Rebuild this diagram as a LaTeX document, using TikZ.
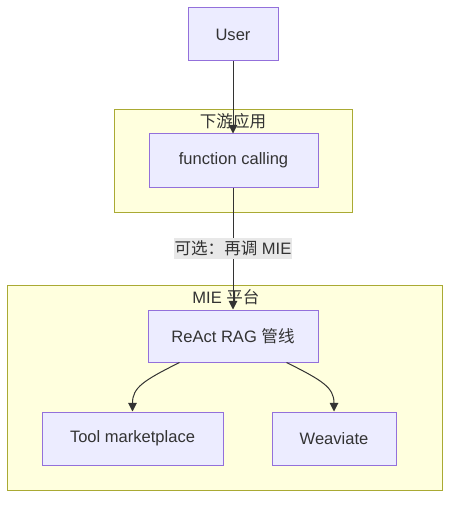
\documentclass[tikz,border=0pt]{standalone}
\usepackage{fontspec}
\setmainfont{Liberation Sans}
\newfontfamily\cjk{Noto Sans CJK SC}
\usetikzlibrary{arrows.meta,calc}
\definecolor{nodefill}{HTML}{ECECFF}
\definecolor{nodeline}{HTML}{9370DB}
\definecolor{clusterfill}{HTML}{FFFFDE}
\definecolor{clusterline}{HTML}{AAAA33}
\definecolor{txt}{HTML}{333333}
\definecolor{lblbg}{HTML}{E8E8E8}
\begin{document}
\begin{tikzpicture}[x=0.75pt,y=-0.75pt,
  font=\fontsize{12.4pt}{14pt}\selectfont,
  box/.style={draw=nodeline,fill=nodefill,line width=0.75pt,text=txt,minimum height=39.75pt,inner sep=0pt},
  cluster/.style={draw=clusterline,fill=clusterfill,line width=0.75pt,inner sep=0pt},
  clabel/.style={text=txt,inner sep=0pt},
  conn/.style={draw=txt,line width=0.75pt,-{Triangle[length=6.5pt,width=6.5pt]}},
  elabel/.style={fill=lblbg,text=txt,inner xsep=0.3pt,inner ysep=2pt}]
\useasboundingbox (0,0) rectangle (458,506);
% clusters
\node[cluster,minimum width=178.5pt,minimum height=76.5pt] (c1) at (233,161) {};
\node[clabel] (c1l) at (233,121) {\cjk 下游应用};
\node[cluster,minimum width=326.25pt,minimum height=153.75pt] (c2) at (224.5,387.5) {};
\node[clabel] (c2l) at (226,297) {MIE {\cjk 平台}};
% nodes
\node[box,minimum width=67.5pt] (user) at (233,34.5) {User};
\node[box,minimum width=126.75pt] (fc) at (233.5,160.5) {function calling};
\node[box,minimum width=127.5pt,minimum height=39pt] (react) at (233,336) {ReAct RAG {\cjk 管线}};
\node[box,minimum width=135.75pt] (tool) at (132.5,438.5) {Tool marketplace};
\node[box,minimum width=93pt] (weav) at (334,438.5) {Weaviate};
% edges
\draw[conn] (user.south) -- (user.south |- fc.north);
\draw[conn] (fc.south -| react.north) -- node[elabel] (el) {{\cjk 可选：再调} MIE} (react.north);
\coordinate (r1) at ($(react.south west)+(32,0)$);
\coordinate (r2) at ($(react.south east)+(-32,0)$);
\draw[conn] (r1) .. controls ($(r1)+(-36,18)$) and ($(tool.north)+(0,-24)$) .. (tool.north);
\draw[conn] (r2) .. controls ($(r2)+(36,18)$) and ($(weav.north)+(0,-24)$) .. (weav.north);
\end{tikzpicture}
\end{document}
